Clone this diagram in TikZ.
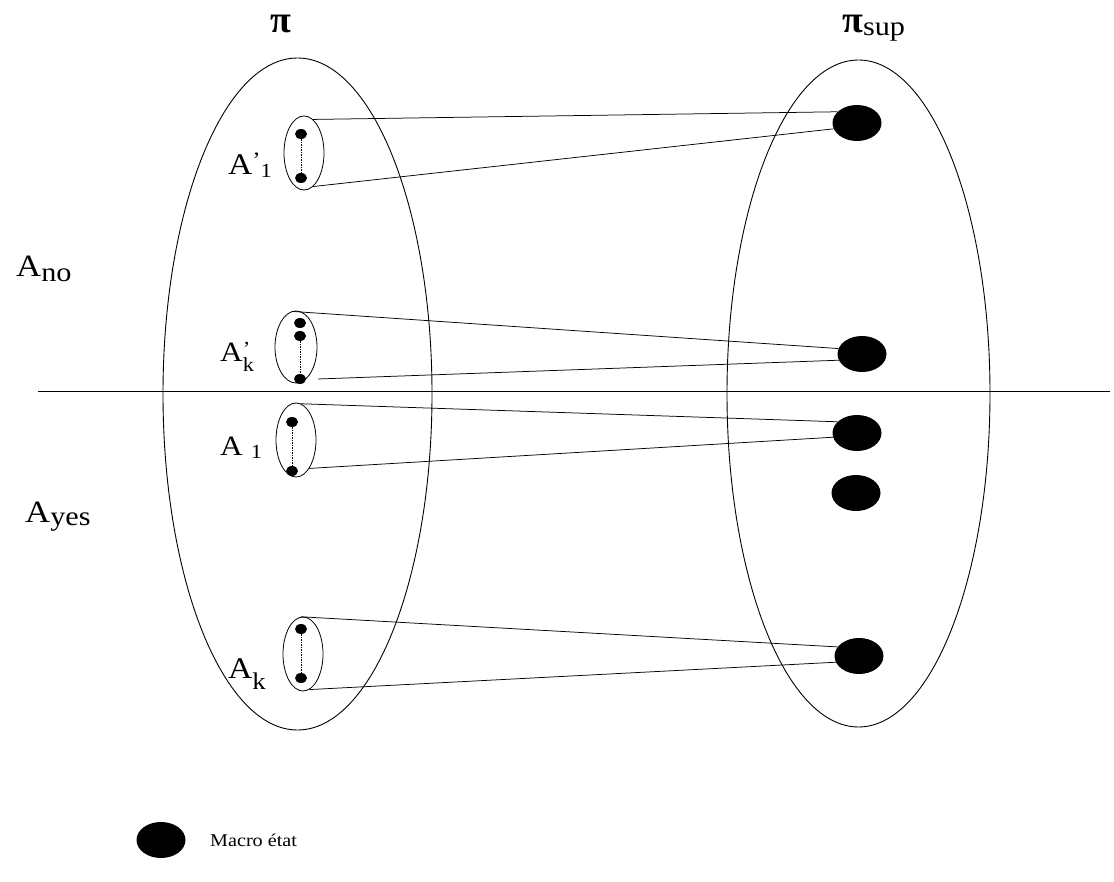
\documentclass[tikz,border=0pt]{standalone}
\usepackage{fontspec}
\setmainfont{Liberation Serif}
\newfontfamily\lblfont[FakeStretch=1.12]{Liberation Serif}
\usetikzlibrary{shapes.geometric}
\newcommand\fs[1]{\fontsize{#1}{#1}\selectfont}
\tikzset{
  region/.style={draw, ellipse, line width=0.9pt, inner sep=0pt},
  group/.style={draw, ellipse, line width=0.8pt, minimum width=40pt, minimum height=74pt, inner sep=0pt},
  dot/.style={fill, ellipse, minimum width=12pt, minimum height=10pt, inner sep=0pt},
  macro/.style={fill, ellipse, minimum width=49pt, minimum height=36pt, inner sep=0pt},
  link/.style={line width=0.75pt},
  chain/.style={line width=0.6pt, dash pattern=on 1.5pt off 1pt},
  label/.style={anchor=base west, inner sep=0pt, font=\lblfont},
}
\begin{document}
\begin{tikzpicture}[x=1pt, y=-1pt]
\useasboundingbox (0,0) rectangle (1114,882);

% the two state spaces
\node[region, minimum width=269pt, minimum height=672pt] (pi) at (297.5,394) {};
\node[region, minimum width=263pt, minimum height=667pt] (pisup) at (858.5,393.5) {};

% separation between A_no and A_yes
\coordinate (sepL) at (38,391);
\coordinate (sepR) at (1110,391);
\draw[line width=0.8pt] (sepL) -- (sepR);

% groups of states in pi
\node[group] (g1) at (304,153) {};
\node[group, minimum width=42pt, minimum height=72pt] (g2) at (296,347) {};
\node[group] (g3) at (296,440) {};
\node[group] (g4) at (303,654) {};

\node[dot] (d11) at (301,134) {};
\node[dot] (d12) at (301,178) {};
\node[dot] (d21) at (300,323) {};
\node[dot] (d22) at (300,336) {};
\node[dot] (d23) at (300,379) {};
\node[dot] (d31) at (292,422) {};
\node[dot] (d32) at (292,471) {};
\node[dot] (d41) at (301,629) {};
\node[dot] (d42) at (301,678) {};

\draw[chain] (d11) -- (d12);
\draw[chain] (d22) -- (d23);
\draw[chain] (d31) -- (d32);
\draw[chain] (d41) -- (d42);

% macro states in pi_sup
\node[macro] (m1) at (857,123) {};
\node[macro] (m2) at (862,354) {};
\node[macro] (m3) at (857,433) {};
\node[macro] (m4) at (856,493) {};
\node[macro] (m5) at (859,656) {};

% aggregation links
\draw[link] (g1.75) -- (m1.150);
\draw[link] (g1.-75) -- (m1.194);
\coordinate (g2b) at (318,379);
\draw[link] (g2.97) -- (m2.167);
\draw[link] (g2b) -- (m2.195);
\draw[link] (g3.82) -- (m3.150);
\draw[link] (g3.-65) -- (m3.190);
\draw[link] (g4.93) -- (m5.157);
\draw[link] (g4.-80) -- (m5.195);

% titles
\node[anchor=base, inner sep=0pt] (tpi) at (281,33) {\fs{38}\bfseries π};
\node[anchor=base west, inner sep=0pt] (tpisup) at (842,33) {\fs{38}\bfseries π\mdseries\fs{27}\raisebox{-3pt}{\lblfont sup}};

\node[label] (lno) at (16,277) {\fs{31}A\fs{27}\raisebox{-5pt}{no}};
\node[label] (lyes) at (25,522) {\fs{31}A\fs{27}\raisebox{-3pt}{yes}};

% group labels
\node[label] (la1p) at (228,175) {\fs{30}A\fs{22}\raisebox{7pt}{’}\fs{20}\raisebox{-3pt}{1}};
\node[label] (lakp) at (220,362) {\fs{28}A\fs{20}\rlap{\raisebox{6pt}{’}}\raisebox{-10pt}{k}};
\node[label] (la1) at (220,455) {\fs{28}A\hspace{8pt}\fs{20}\raisebox{-3pt}{1}};
\node[label] (lak) at (228,678) {\fs{30}A\fs{24}\raisebox{-11pt}{k}};

% legend
\node[macro] (mkey) at (161,840) {};
\node[label] (lkey) at (210,846) {\fs{18}Macro état};
\end{tikzpicture}
\end{document}
